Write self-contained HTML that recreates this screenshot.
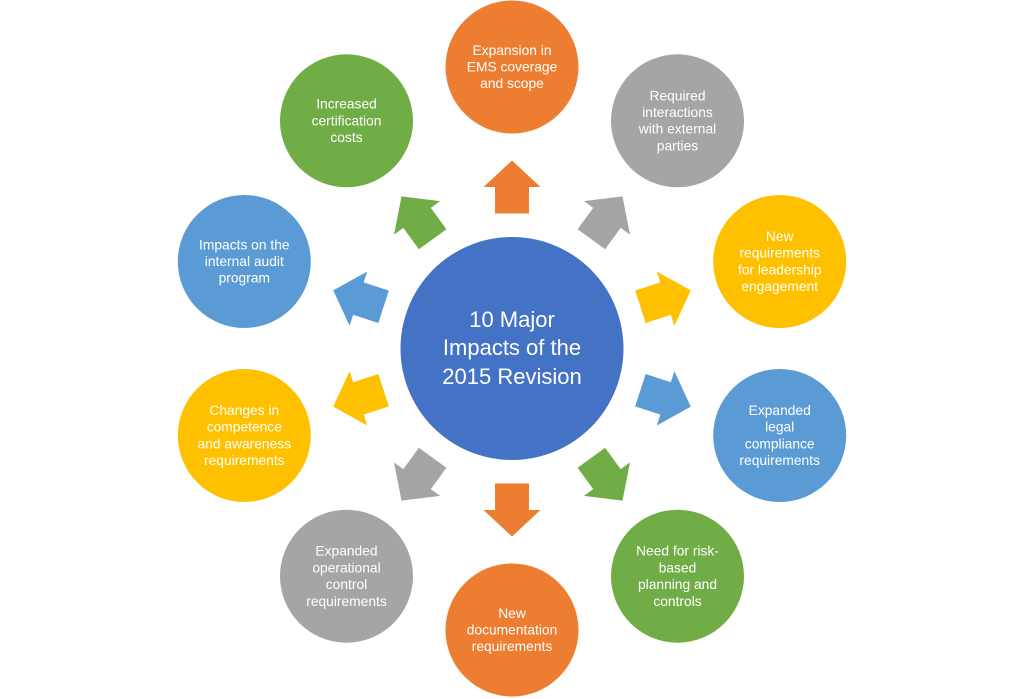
<!DOCTYPE html>
<html>
<head>
<meta charset="utf-8">
<style>
html,body{margin:0;padding:0;background:#fff;}
body{width:1024px;height:699px;overflow:hidden;}
svg{display:block;}
.t{font-family:"Liberation Sans",sans-serif;font-size:13.8px;fill:#fff;text-anchor:middle;}
.c{font-family:"Liberation Sans",sans-serif;font-size:22px;fill:#fff;text-anchor:middle;}
</style>
</head>
<body>
<svg width="1024" height="699" viewBox="0 0 1024 699" xmlns="http://www.w3.org/2000/svg">
<defs>
<polygon id="arr" points="135,-17 161.5,-17 161.5,-28.5 188,0 161.5,28.5 161.5,17 135,17"/>
</defs>
<rect width="1024" height="699" fill="#fff"/>

<!-- arrows -->
<g transform="translate(512,348.5)">
<use href="#arr" fill="#ED7D31" transform="rotate(-90)"/>
<use href="#arr" fill="#A5A5A5" transform="rotate(-54)"/>
<use href="#arr" fill="#FFC000" transform="rotate(-18)"/>
<use href="#arr" fill="#5B9BD5" transform="rotate(18)"/>
<use href="#arr" fill="#70AD47" transform="rotate(54)"/>
<use href="#arr" fill="#ED7D31" transform="rotate(90)"/>
<use href="#arr" fill="#A5A5A5" transform="rotate(126)"/>
<use href="#arr" fill="#FFC000" transform="rotate(162)"/>
<use href="#arr" fill="#5B9BD5" transform="rotate(198)"/>
<use href="#arr" fill="#70AD47" transform="rotate(234)"/>
</g>

<!-- center -->
<circle cx="512" cy="348.5" r="111.5" fill="#4472C4"/>
<text class="c" x="512" y="327">10 Major</text>
<text class="c" x="512" y="355">Impacts of the</text>
<text class="c" x="512" y="384">2015 Revision</text>

<!-- outer circles -->
<circle cx="512" cy="67" r="66.5" fill="#ED7D31"/>
<text class="t"><tspan x="512" y="54.8">Expansion in</tspan><tspan x="512" y="71.5">EMS coverage</tspan><tspan x="512" y="88.2">and scope</tspan></text>

<circle cx="677.5" cy="120.8" r="66.5" fill="#A5A5A5"/>
<text class="t"><tspan x="677.5" y="100.3">Required</tspan><tspan x="677.5" y="117">interactions</tspan><tspan x="677.5" y="133.7">with external</tspan><tspan x="677.5" y="150.4">parties</tspan></text>

<circle cx="779.7" cy="261.5" r="66.5" fill="#FFC000"/>
<text class="t"><tspan x="779.7" y="241">New</tspan><tspan x="779.7" y="257.7">requirements</tspan><tspan x="779.7" y="274.4">for leadership</tspan><tspan x="779.7" y="291.1">engagement</tspan></text>

<circle cx="779.7" cy="435.5" r="66.5" fill="#5B9BD5"/>
<text class="t"><tspan x="779.7" y="415">Expanded</tspan><tspan x="779.7" y="431.7">legal</tspan><tspan x="779.7" y="448.4">compliance</tspan><tspan x="779.7" y="465.1">requirements</tspan></text>

<circle cx="677.5" cy="576.2" r="66.5" fill="#70AD47"/>
<text class="t"><tspan x="677.5" y="555.7">Need for risk-</tspan><tspan x="677.5" y="572.4">based</tspan><tspan x="677.5" y="589.1">planning and</tspan><tspan x="677.5" y="605.8">controls</tspan></text>

<circle cx="512" cy="630" r="66.5" fill="#ED7D31"/>
<text class="t"><tspan x="512" y="617.8">New</tspan><tspan x="512" y="634.5">documentation</tspan><tspan x="512" y="651.2">requirements</tspan></text>

<circle cx="346.5" cy="576.2" r="66.5" fill="#A5A5A5"/>
<text class="t"><tspan x="346.5" y="555.7">Expanded</tspan><tspan x="346.5" y="572.4">operational</tspan><tspan x="346.5" y="589.1">control</tspan><tspan x="346.5" y="605.8">requirements</tspan></text>

<circle cx="244.3" cy="435.5" r="66.5" fill="#FFC000"/>
<text class="t"><tspan x="244.3" y="415">Changes in</tspan><tspan x="244.3" y="431.7">competence</tspan><tspan x="244.3" y="448.4">and awareness</tspan><tspan x="244.3" y="465.1">requirements</tspan></text>

<circle cx="244.3" cy="261.5" r="66.5" fill="#5B9BD5"/>
<text class="t"><tspan x="244.3" y="249.3">Impacts on the</tspan><tspan x="244.3" y="266">internal audit</tspan><tspan x="244.3" y="282.7">program</tspan></text>

<circle cx="346.5" cy="120.8" r="66.5" fill="#70AD47"/>
<text class="t"><tspan x="346.5" y="108.6">Increased</tspan><tspan x="346.5" y="125.3">certification</tspan><tspan x="346.5" y="142">costs</tspan></text>
</svg>
</body>
</html>
